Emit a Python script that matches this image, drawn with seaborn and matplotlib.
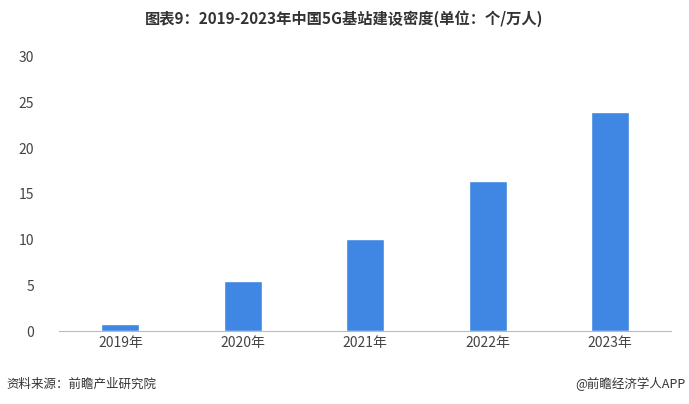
import matplotlib
matplotlib.use("Agg")
import matplotlib.pyplot as plt
import seaborn as sns
import pandas as pd

years = ["2019年", "2020年", "2021年", "2022年", "2023年"]
values = [0.77, 5.5, 10.1, 16.4, 24.0]
yticks = [0, 5, 10, 15, 20, 25, 30]

sns.set_style("white")
plt.rcParams['font.family'] = ['Noto Sans CJK SC', 'DejaVu Sans']

fig = plt.figure(figsize=(6.89, 4.04), dpi=100)
ax = fig.add_axes([0.086, 0.18, 0.888, 0.68])
df = pd.DataFrame({"year": years, "v": values})
sns.barplot(data=df, x="year", y="v", color="#3f87e2", saturation=1, width=0.31, ax=ax)
ax.set_ylim(0, 30)
ax.set_yticks(yticks)
ax.set_xlabel("")
ax.set_ylabel("")
for s in ["top", "right", "left"]:
    ax.spines[s].set_visible(False)
ax.spines["bottom"].set_color("#bbbbbb")
ax.tick_params(axis="both", length=0, labelsize=10, colors="#444444")
ax.tick_params(axis="y", pad=18)
fig.text(0.5, 0.955, "图表9：2019-2023年中国5G基站建设密度(单位：个/万人)", ha="center", va="center",
         fontsize=11, fontweight="bold", color="#333333")
fig.text(0.01, 0.05, "资料来源：前瞻产业研究院", ha="left", va="center", fontsize=9, color="#333333")
fig.text(0.995, 0.05, "@前瞻经济学人APP", ha="right", va="center", fontsize=9, color="#333333")
fig.savefig("out.png", dpi=100)
